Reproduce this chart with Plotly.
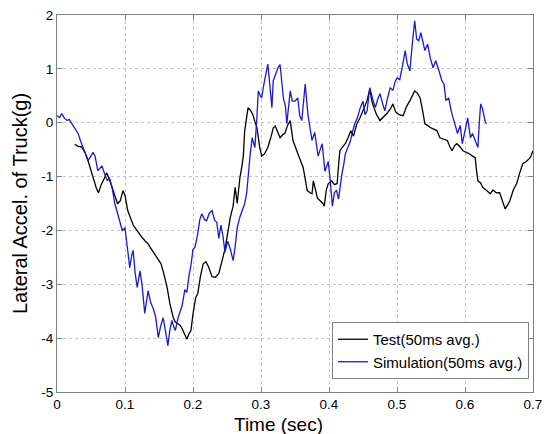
import plotly.graph_objects as go

# Test (50ms avg.)
test_t = [0.026, 0.031, 0.036, 0.041, 0.046, 0.050, 0.054, 0.058, 0.061, 0.065, 0.069, 0.073, 0.077, 0.081, 0.085, 0.089, 0.093, 0.097, 0.100, 0.104, 0.108, 0.112, 0.116, 0.120, 0.125, 0.130, 0.134, 0.139, 0.144, 0.149, 0.153, 0.156, 0.159, 0.162, 0.166, 0.169, 0.171, 0.174, 0.177, 0.181, 0.184, 0.188, 0.191, 0.194, 0.197, 0.200, 0.204, 0.207, 0.211, 0.215, 0.219, 0.223, 0.228, 0.233, 0.238, 0.243, 0.247, 0.251, 0.255, 0.259, 0.262, 0.265, 0.269, 0.272, 0.274, 0.276, 0.278, 0.281, 0.285, 0.288, 0.291, 0.294, 0.298, 0.301, 0.305, 0.310, 0.315, 0.318, 0.321, 0.325, 0.328, 0.332, 0.335, 0.339, 0.343, 0.347, 0.351, 0.354, 0.358, 0.362, 0.365, 0.368, 0.372, 0.375, 0.377, 0.380, 0.383, 0.387, 0.391, 0.393, 0.396, 0.399, 0.404, 0.408, 0.412, 0.414, 0.416, 0.420, 0.424, 0.428, 0.432, 0.436, 0.441, 0.446, 0.451, 0.456, 0.460, 0.463, 0.466, 0.470, 0.475, 0.480, 0.485, 0.490, 0.494, 0.498, 0.503, 0.509, 0.514, 0.519, 0.523, 0.526, 0.530, 0.534, 0.538, 0.541, 0.545, 0.549, 0.554, 0.559, 0.563, 0.568, 0.574, 0.578, 0.581, 0.585, 0.588, 0.593, 0.597, 0.602, 0.607, 0.611, 0.615, 0.617, 0.619, 0.623, 0.626, 0.631, 0.637, 0.641, 0.646, 0.651, 0.655, 0.659, 0.663, 0.666, 0.671, 0.676, 0.680, 0.685, 0.690, 0.696, 0.700]
test_y = [-0.40, -0.44, -0.45, -0.55, -0.72, -0.88, -1.08, -1.22, -1.30, -1.15, -1.05, -0.93, -1.05, -1.22, -1.35, -1.50, -1.45, -1.26, -1.35, -1.63, -1.78, -1.90, -1.97, -2.05, -2.13, -2.20, -2.25, -2.35, -2.45, -2.56, -2.62, -2.75, -2.90, -3.06, -3.36, -3.50, -3.62, -3.70, -3.73, -3.76, -3.82, -3.92, -4.02, -3.92, -3.86, -3.55, -3.25, -3.17, -2.85, -2.62, -2.58, -2.68, -2.86, -2.87, -2.80, -2.55, -2.35, -2.05, -1.75, -1.55, -1.20, -1.50, -1.02, -0.80, -0.62, -0.15, 0.05, 0.28, 0.22, 0.15, 0.02, -0.09, -0.45, -0.62, -0.58, -0.46, -0.25, -0.10, -0.06, -0.20, -0.28, -0.22, -0.20, -0.05, 0.04, -0.33, -0.48, -0.58, -0.70, -0.83, -1.05, -1.26, -1.30, -1.32, -1.08, -1.25, -1.40, -1.45, -1.50, -1.55, -1.25, -1.13, -1.08, -1.15, -1.13, -0.80, -0.52, -0.45, -0.39, -0.28, -0.15, -0.25, -0.02, 0.10, 0.25, 0.41, 0.63, 0.40, 0.28, 0.15, 0.04, 0.10, 0.17, 0.25, 0.35, 0.20, 0.15, 0.13, 0.30, 0.41, 0.52, 0.59, 0.55, 0.46, 0.20, -0.02, -0.05, -0.09, -0.12, -0.15, -0.28, -0.30, -0.33, -0.45, -0.52, -0.42, -0.39, -0.45, -0.52, -0.55, -0.58, -0.62, -0.65, -0.90, -1.08, -1.12, -1.20, -1.25, -1.32, -1.25, -1.30, -1.30, -1.45, -1.60, -1.52, -1.45, -1.25, -1.13, -0.95, -0.76, -0.72, -0.65, -0.52]

# Simulation (50ms avg.)
sim_t = [0.000, 0.004, 0.007, 0.011, 0.015, 0.018, 0.022, 0.026, 0.031, 0.035, 0.038, 0.042, 0.046, 0.050, 0.053, 0.056, 0.060, 0.063, 0.066, 0.070, 0.074, 0.077, 0.081, 0.085, 0.088, 0.092, 0.096, 0.100, 0.104, 0.107, 0.110, 0.112, 0.115, 0.118, 0.122, 0.125, 0.129, 0.132, 0.134, 0.138, 0.141, 0.145, 0.149, 0.152, 0.156, 0.160, 0.163, 0.166, 0.169, 0.172, 0.174, 0.178, 0.181, 0.184, 0.188, 0.191, 0.194, 0.197, 0.200, 0.203, 0.207, 0.210, 0.213, 0.217, 0.220, 0.224, 0.228, 0.232, 0.235, 0.238, 0.241, 0.244, 0.247, 0.251, 0.255, 0.259, 0.262, 0.265, 0.269, 0.272, 0.276, 0.279, 0.281, 0.284, 0.287, 0.291, 0.294, 0.296, 0.299, 0.301, 0.304, 0.306, 0.310, 0.313, 0.316, 0.318, 0.321, 0.325, 0.328, 0.331, 0.333, 0.336, 0.338, 0.341, 0.343, 0.346, 0.350, 0.354, 0.357, 0.360, 0.363, 0.365, 0.369, 0.372, 0.375, 0.379, 0.382, 0.384, 0.387, 0.390, 0.394, 0.397, 0.399, 0.402, 0.405, 0.408, 0.411, 0.414, 0.417, 0.419, 0.422, 0.424, 0.428, 0.431, 0.435, 0.438, 0.442, 0.446, 0.450, 0.453, 0.456, 0.460, 0.464, 0.468, 0.472, 0.475, 0.479, 0.482, 0.486, 0.490, 0.494, 0.497, 0.500, 0.504, 0.508, 0.512, 0.515, 0.519, 0.522, 0.526, 0.529, 0.532, 0.535, 0.538, 0.541, 0.545, 0.549, 0.553, 0.557, 0.562, 0.566, 0.569, 0.572, 0.576, 0.580, 0.585, 0.589, 0.593, 0.596, 0.600, 0.604, 0.608, 0.611, 0.615, 0.619, 0.621, 0.623, 0.626, 0.628, 0.630, 0.632]
sim_y = [0.13, 0.10, 0.17, 0.08, 0.04, 0.06, -0.02, -0.10, -0.20, -0.35, -0.46, -0.58, -0.70, -0.62, -0.55, -0.62, -0.89, -0.85, -0.80, -0.95, -1.08, -1.02, -1.20, -1.50, -1.63, -1.78, -2.00, -1.95, -2.35, -2.69, -2.45, -2.37, -2.80, -3.06, -2.75, -3.00, -3.54, -3.25, -3.12, -3.35, -3.43, -3.60, -3.99, -3.80, -3.62, -3.90, -4.14, -3.85, -3.67, -3.80, -3.86, -3.62, -3.50, -3.40, -3.10, -3.15, -2.85, -2.65, -2.35, -2.31, -2.06, -1.80, -1.69, -1.80, -1.82, -1.68, -1.63, -1.82, -1.85, -2.15, -1.90, -2.10, -2.40, -2.20, -2.35, -2.56, -2.30, -1.95, -1.75, -1.65, -1.50, -1.30, -0.95, -0.60, -0.28, -0.46, 0.10, 0.59, 0.50, 0.46, 0.70, 0.83, 1.09, 0.70, 0.28, 0.78, 0.90, 1.02, 1.08, 0.70, 0.45, 0.30, -0.02, 0.35, 0.59, 0.40, 0.40, 0.46, 0.13, 0.04, 0.50, 0.72, 0.15, -0.10, -0.33, -0.18, -0.40, -0.62, -0.50, -0.39, -0.90, -0.80, -0.72, -1.10, -1.55, -1.30, -1.25, -1.42, -1.10, -0.95, -0.75, -0.58, -0.45, -0.36, -0.15, -0.02, 0.10, 0.28, 0.40, 0.15, 0.22, 0.65, 0.45, 0.28, 0.45, 0.54, 0.35, 0.22, 0.45, 0.65, 0.60, 0.75, 0.83, 0.80, 1.05, 1.34, 1.10, 0.96, 1.40, 1.89, 1.55, 1.52, 1.67, 1.50, 1.34, 1.46, 1.20, 1.02, 1.15, 0.95, 0.78, 0.72, 0.41, 0.46, 0.20, -0.02, -0.20, -0.05, -0.39, -0.15, 0.09, -0.28, -0.20, -0.33, -0.46, 0.00, 0.35, 0.25, 0.09, 0.00, -0.02]

x_ticks = [0, 0.1, 0.2, 0.3, 0.4, 0.5, 0.6, 0.7]
x_tick_labels = ["0", "0.1", "0.2", "0.3", "0.4", "0.5", "0.6", "0.7"]
y_ticks = [-5, -4, -3, -2, -1, 0, 1, 2]
y_tick_labels = ["-5", "-4", "-3", "-2", "-1", "0", "1", "2"]

FONT = "Liberation Sans, Arial, sans-serif"

fig = go.Figure()
fig.add_trace(go.Scatter(x=test_t, y=test_y, mode="lines", name="Test(50ms avg.)",
                         line=dict(color="black", width=1.3)))
fig.add_trace(go.Scatter(x=sim_t, y=sim_y, mode="lines", name="Simulation(50ms avg.)",
                         line=dict(color="#1a1ad0", width=1.3)))

axis_common = dict(
    showgrid=True, gridcolor="#c4c4c4", griddash="dot", gridwidth=1,
    showline=True, linecolor="#808080", linewidth=1, mirror="ticks",
    ticks="inside", ticklen=5, tickcolor="#808080", automargin=False,
    zeroline=False, tickfont=dict(family=FONT, size=13.5, color="black"),
)

fig.update_layout(
    width=552, height=434,
    margin=dict(l=57, r=19, t=15, b=42),
    paper_bgcolor="white", plot_bgcolor="white",
    font=dict(family=FONT, color="black"),
    xaxis=dict(range=[0, 0.7], tickvals=x_ticks, ticktext=x_tick_labels,
               **axis_common),
    yaxis=dict(range=[-5, 2], tickvals=y_ticks, ticktext=y_tick_labels,
               title=dict(text="Lateral Accel. of Truck(g)", font=dict(family=FONT, size=20), standoff=8),
               **axis_common),
    legend=dict(x=0.9916, y=0.0345, xanchor="right", yanchor="bottom",
                bgcolor="white", bordercolor="#808080", borderwidth=1,
                font=dict(family=FONT, size=15), tracegroupgap=0,
                itemwidth=30),
    showlegend=True,
    annotations=[dict(text="Time (sec)", xref="paper", yref="paper",
                      x=0.466, y=-0.0535, xanchor="center", yanchor="top",
                      showarrow=False, font=dict(family=FONT, size=19, color="black"))],
)

fig.write_html("out.html", config={"displayModeBar": False},
               post_script="document.body.style.margin='0';")
